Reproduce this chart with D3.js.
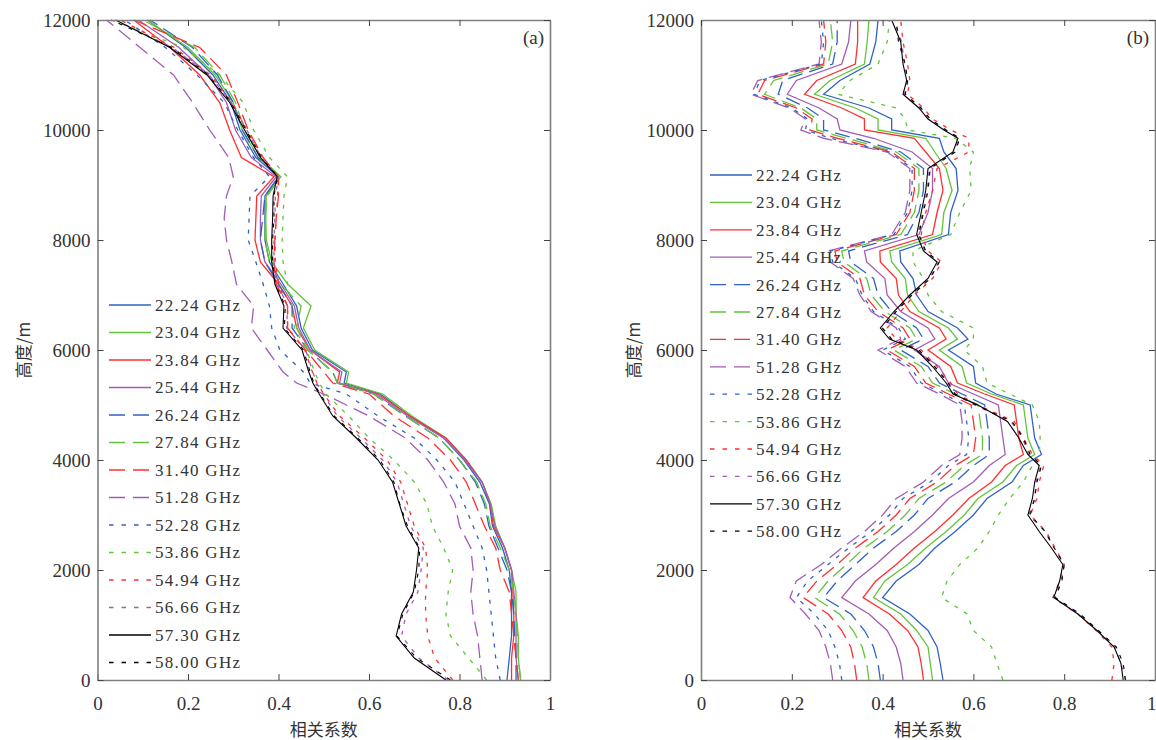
<!DOCTYPE html>
<html>
<head>
<meta charset="utf-8">
<script src="https://cdn.jsdelivr.net/npm/d3@7"></script>
<style>
  body { margin: 0; background: #fff; }
  svg { display: block; }
</style>
</head>
<body>
<div id="chart"></div>
<script>
// legend labels
const freqLabels = ['22.24 GHz', '23.04 GHz', '23.84 GHz', '25.44 GHz', '26.24 GHz', '27.84 GHz', '31.40 GHz',
  '51.28 GHz', '52.28 GHz', '53.86 GHz', '54.94 GHz', '56.66 GHz', '57.30 GHz', '58.00 GHz'];
const xTicks = [0, 0.2, 0.4, 0.6, 0.8, 1];
const yTicks = [0, 2000, 4000, 6000, 8000, 10000, 12000];

// panel (a) heights, m
const heightsA = [0, 400, 800, 1200, 1600, 2000, 2400, 2800, 3200, 3600, 4000, 4400, 4800, 5200, 5400, 5600,
  6000, 6400, 6800, 7200, 7600, 8000, 8400, 8800, 9150, 9500, 10000, 10500, 11000, 11500, 12000];
const a2224 = [0.905, 0.91, 0.915, 0.915, 0.915, 0.91, 0.895, 0.873, 0.866, 0.845, 0.81, 0.765, 0.69, 0.625, 0.545, 0.55, 0.475, 0.45, 0.44, 0.41, 0.38, 0.37, 0.37, 0.37, 0.40, 0.35, 0.315, 0.295, 0.255, 0.195, 0.11];
const a2304 = [0.935, 0.93, 0.93, 0.925, 0.925, 0.915, 0.90, 0.88, 0.87, 0.85, 0.815, 0.77, 0.695, 0.63, 0.55, 0.555, 0.48, 0.455, 0.472, 0.42, 0.385, 0.373, 0.372, 0.373, 0.405, 0.355, 0.32, 0.30, 0.26, 0.20, 0.11];
const a2384 = [0.915, 0.915, 0.92, 0.92, 0.918, 0.915, 0.90, 0.875, 0.868, 0.85, 0.815, 0.77, 0.69, 0.62, 0.53, 0.535, 0.47, 0.44, 0.43, 0.40, 0.36, 0.348, 0.35, 0.352, 0.39, 0.318, 0.292, 0.27, 0.226, 0.16, 0.08];
const a2544 = [0.93, 0.925, 0.925, 0.925, 0.92, 0.915, 0.90, 0.878, 0.868, 0.85, 0.812, 0.765, 0.685, 0.615, 0.535, 0.54, 0.47, 0.445, 0.435, 0.405, 0.37, 0.36, 0.36, 0.362, 0.395, 0.34, 0.305, 0.285, 0.245, 0.18, 0.09];
const a2624 = [0.925, 0.925, 0.922, 0.92, 0.915, 0.905, 0.885, 0.865, 0.855, 0.835, 0.80, 0.755, 0.68, 0.61, 0.53, 0.52, 0.465, 0.43, 0.43, 0.40, 0.37, 0.36, 0.365, 0.37, 0.40, 0.355, 0.32, 0.30, 0.265, 0.21, 0.116];
const a2784 = [0.935, 0.93, 0.928, 0.925, 0.92, 0.91, 0.89, 0.868, 0.858, 0.838, 0.80, 0.755, 0.68, 0.61, 0.53, 0.52, 0.465, 0.44, 0.45, 0.405, 0.38, 0.37, 0.37, 0.375, 0.405, 0.36, 0.325, 0.305, 0.27, 0.215, 0.10];
const a3140 = [0.93, 0.925, 0.92, 0.915, 0.91, 0.89, 0.88, 0.855, 0.835, 0.815, 0.78, 0.73, 0.655, 0.60, 0.52, 0.50, 0.46, 0.42, 0.42, 0.395, 0.39, 0.392, 0.395, 0.40, 0.40, 0.366, 0.333, 0.31, 0.285, 0.226, 0.08];
const a5128 = [0.85, 0.845, 0.84, 0.83, 0.825, 0.83, 0.825, 0.80, 0.79, 0.765, 0.73, 0.68, 0.60, 0.50, 0.44, 0.41, 0.375, 0.34, 0.345, 0.307, 0.297, 0.285, 0.28, 0.285, 0.30, 0.29, 0.248, 0.21, 0.168, 0.094, 0.02];
const a5228 = [0.89, 0.88, 0.875, 0.87, 0.865, 0.86, 0.85, 0.83, 0.81, 0.79, 0.75, 0.70, 0.62, 0.55, 0.47, 0.455, 0.403, 0.385, 0.38, 0.366, 0.35, 0.333, 0.335, 0.337, 0.38, 0.345, 0.31, 0.28, 0.22, 0.15, 0.06];
const a5386 = [0.86, 0.82, 0.78, 0.77, 0.775, 0.785, 0.765, 0.74, 0.728, 0.70, 0.655, 0.60, 0.555, 0.505, 0.49, 0.48, 0.462, 0.435, 0.43, 0.42, 0.41, 0.408, 0.41, 0.412, 0.42, 0.38, 0.345, 0.322, 0.27, 0.19, 0.03];
const a5494 = [0.785, 0.745, 0.73, 0.725, 0.725, 0.73, 0.725, 0.70, 0.685, 0.67, 0.64, 0.59, 0.535, 0.50, 0.485, 0.475, 0.458, 0.42, 0.42, 0.40, 0.393, 0.392, 0.395, 0.398, 0.40, 0.365, 0.33, 0.298, 0.25, 0.17, 0.05];
const a5666 = [0.775, 0.71, 0.672, 0.682, 0.708, 0.715, 0.72, 0.692, 0.677, 0.662, 0.63, 0.582, 0.53, 0.498, 0.484, 0.476, 0.46, 0.418, 0.42, 0.398, 0.39, 0.39, 0.392, 0.393, 0.40, 0.362, 0.33, 0.296, 0.247, 0.165, 0.04];
const a5730 = [0.77, 0.70, 0.66, 0.672, 0.698, 0.705, 0.71, 0.682, 0.667, 0.652, 0.62, 0.572, 0.52, 0.49, 0.476, 0.467, 0.452, 0.41, 0.412, 0.392, 0.385, 0.385, 0.387, 0.388, 0.397, 0.36, 0.325, 0.292, 0.242, 0.16, 0.04];
const a5800 = [0.78, 0.705, 0.662, 0.675, 0.70, 0.71, 0.712, 0.685, 0.668, 0.655, 0.624, 0.575, 0.523, 0.492, 0.478, 0.47, 0.455, 0.413, 0.415, 0.393, 0.387, 0.387, 0.39, 0.39, 0.398, 0.362, 0.328, 0.295, 0.245, 0.165, 0.03];

// panel (b) heights, m
const heightsB = [0, 300, 600, 900, 1200, 1500, 1800, 2100, 2400, 2700, 3000, 3300, 3600, 3900, 4100, 4400, 4700,
  5000, 5200, 5400, 5700, 6000, 6200, 6400, 6700, 7000, 7300, 7600, 7800, 8100, 8500, 8900, 9300, 9600, 9850,
  10000, 10200, 10400, 10650, 10900, 11200, 11600, 12000];
const b2224 = [0.533, 0.527, 0.52, 0.50, 0.46, 0.40, 0.43, 0.48, 0.515, 0.56, 0.60, 0.63, 0.685, 0.71, 0.75, 0.735, 0.73, 0.725, 0.65, 0.605, 0.60, 0.545, 0.588, 0.565, 0.50, 0.475, 0.467, 0.44, 0.438, 0.545, 0.55, 0.566, 0.562, 0.535, 0.525, 0.42, 0.42, 0.37, 0.27, 0.306, 0.372, 0.385, 0.39];
const b2304 = [0.51, 0.505, 0.50, 0.475, 0.44, 0.38, 0.405, 0.455, 0.495, 0.54, 0.58, 0.61, 0.665, 0.695, 0.735, 0.72, 0.715, 0.71, 0.64, 0.585, 0.575, 0.525, 0.565, 0.545, 0.48, 0.455, 0.45, 0.42, 0.416, 0.53, 0.535, 0.553, 0.54, 0.515, 0.495, 0.39, 0.39, 0.34, 0.25, 0.284, 0.36, 0.366, 0.37];
const b2384 = [0.49, 0.485, 0.478, 0.455, 0.415, 0.357, 0.385, 0.43, 0.47, 0.515, 0.555, 0.59, 0.64, 0.67, 0.71, 0.70, 0.695, 0.69, 0.625, 0.565, 0.55, 0.50, 0.54, 0.525, 0.46, 0.435, 0.43, 0.395, 0.394, 0.51, 0.52, 0.533, 0.525, 0.495, 0.47, 0.36, 0.36, 0.31, 0.228, 0.255, 0.34, 0.345, 0.345];
const b2544 = [0.445, 0.44, 0.43, 0.41, 0.37, 0.31, 0.34, 0.385, 0.425, 0.47, 0.51, 0.545, 0.60, 0.635, 0.67, 0.665, 0.66, 0.655, 0.60, 0.545, 0.525, 0.47, 0.515, 0.50, 0.44, 0.41, 0.405, 0.365, 0.36, 0.48, 0.50, 0.51, 0.51, 0.465, 0.38, 0.306, 0.30, 0.26, 0.19, 0.21, 0.31, 0.325, 0.33];
const b2624 = [0.395, 0.39, 0.38, 0.36, 0.33, 0.27, 0.30, 0.34, 0.38, 0.43, 0.47, 0.50, 0.56, 0.60, 0.635, 0.635, 0.63, 0.625, 0.575, 0.525, 0.50, 0.44, 0.49, 0.475, 0.42, 0.39, 0.38, 0.33, 0.325, 0.455, 0.48, 0.49, 0.49, 0.44, 0.34, 0.27, 0.27, 0.235, 0.17, 0.18, 0.29, 0.30, 0.30];
const b2784 = [0.37, 0.365, 0.355, 0.335, 0.305, 0.25, 0.28, 0.32, 0.36, 0.41, 0.45, 0.48, 0.54, 0.58, 0.62, 0.62, 0.615, 0.61, 0.56, 0.51, 0.485, 0.425, 0.475, 0.46, 0.405, 0.375, 0.365, 0.315, 0.31, 0.44, 0.47, 0.48, 0.48, 0.43, 0.32, 0.255, 0.255, 0.22, 0.14, 0.16, 0.28, 0.29, 0.285];
const b3140 = [0.343, 0.338, 0.33, 0.31, 0.28, 0.225, 0.255, 0.30, 0.34, 0.39, 0.43, 0.46, 0.52, 0.56, 0.60, 0.605, 0.60, 0.595, 0.545, 0.495, 0.47, 0.41, 0.46, 0.445, 0.39, 0.36, 0.35, 0.30, 0.295, 0.43, 0.46, 0.47, 0.47, 0.42, 0.30, 0.24, 0.245, 0.21, 0.125, 0.14, 0.27, 0.275, 0.27];
const b5128 = [0.29, 0.285, 0.275, 0.26, 0.23, 0.196, 0.21, 0.265, 0.31, 0.36, 0.40, 0.43, 0.49, 0.53, 0.57, 0.575, 0.575, 0.57, 0.525, 0.475, 0.45, 0.39, 0.44, 0.43, 0.375, 0.35, 0.335, 0.285, 0.28, 0.42, 0.45, 0.46, 0.46, 0.41, 0.27, 0.22, 0.23, 0.195, 0.11, 0.125, 0.26, 0.265, 0.26];
const b5228 = [0.31, 0.305, 0.295, 0.28, 0.25, 0.21, 0.235, 0.28, 0.325, 0.375, 0.415, 0.445, 0.505, 0.545, 0.585, 0.59, 0.585, 0.58, 0.535, 0.485, 0.46, 0.40, 0.45, 0.435, 0.38, 0.355, 0.34, 0.29, 0.285, 0.425, 0.455, 0.465, 0.465, 0.415, 0.285, 0.23, 0.235, 0.20, 0.117, 0.13, 0.265, 0.27, 0.265];
const b5386 = [0.665, 0.652, 0.64, 0.60, 0.586, 0.53, 0.542, 0.57, 0.61, 0.635, 0.655, 0.68, 0.71, 0.73, 0.745, 0.747, 0.745, 0.73, 0.68, 0.63, 0.62, 0.58, 0.60, 0.60, 0.53, 0.50, 0.49, 0.467, 0.467, 0.55, 0.57, 0.595, 0.592, 0.60, 0.56, 0.455, 0.45, 0.43, 0.302, 0.328, 0.39, 0.41, 0.415];
const b5494 = [0.905, 0.91, 0.905, 0.87, 0.83, 0.775, 0.79, 0.80, 0.78, 0.76, 0.725, 0.74, 0.745, 0.755, 0.73, 0.71, 0.69, 0.61, 0.565, 0.55, 0.52, 0.485, 0.43, 0.41, 0.44, 0.47, 0.51, 0.53, 0.50, 0.485, 0.495, 0.51, 0.52, 0.59, 0.59, 0.55, 0.51, 0.49, 0.455, 0.46, 0.455, 0.445, 0.44];
const b5666 = [0.935, 0.925, 0.912, 0.875, 0.833, 0.78, 0.793, 0.80, 0.778, 0.758, 0.722, 0.735, 0.738, 0.748, 0.722, 0.708, 0.683, 0.603, 0.558, 0.543, 0.513, 0.478, 0.418, 0.398, 0.428, 0.463, 0.503, 0.523, 0.493, 0.478, 0.488, 0.498, 0.503, 0.558, 0.568, 0.538, 0.503, 0.483, 0.448, 0.456, 0.448, 0.442, 0.425];
const b5730 = [0.93, 0.925, 0.91, 0.872, 0.83, 0.777, 0.79, 0.797, 0.772, 0.745, 0.72, 0.73, 0.735, 0.745, 0.72, 0.70, 0.675, 0.61, 0.555, 0.54, 0.51, 0.475, 0.415, 0.395, 0.425, 0.46, 0.50, 0.52, 0.49, 0.475, 0.485, 0.495, 0.50, 0.555, 0.566, 0.535, 0.50, 0.48, 0.445, 0.453, 0.445, 0.44, 0.42];
const b5800 = [0.935, 0.93, 0.915, 0.875, 0.835, 0.78, 0.795, 0.80, 0.778, 0.758, 0.725, 0.735, 0.74, 0.75, 0.725, 0.71, 0.685, 0.605, 0.56, 0.545, 0.515, 0.48, 0.42, 0.40, 0.43, 0.465, 0.505, 0.525, 0.495, 0.48, 0.49, 0.50, 0.505, 0.56, 0.57, 0.54, 0.505, 0.485, 0.45, 0.455, 0.45, 0.435, 0.43];

const seriesA = [a2224, a2304, a2384, a2544, a2624, a2784, a3140, a5128, a5228, a5386, a5494, a5666, a5730, a5800];
const seriesB = [b2224, b2304, b2384, b2544, b2624, b2784, b3140, b5128, b5228, b5386, b5494, b5666, b5730, b5800];

// line styles, same order as freqLabels
const BLUE = '#2f63c2', GREEN = '#62c43a', RED = '#ff2f2f', PURPLE = '#a35cb5', BLACK = '#000';
const colors = [BLUE, GREEN, RED, PURPLE, BLUE, GREEN, RED, PURPLE, BLUE, GREEN, RED, PURPLE, BLACK, BLACK];
const LONG = '15,7', SHORT = '4,7';
const dashes = [null, null, null, null, LONG, LONG, LONG, LONG, SHORT, SHORT, SHORT, SHORT, null, SHORT];

const width = 1156, height = 740;
const svg = d3.select('#chart').append('svg')
  .attr('width', width)
  .attr('height', height)
  .style('background', '#fff');

const y = d3.scaleLinear().domain([0, 12000]).range([680, 20]);

const panels = [
  { x: d3.scaleLinear().domain([0, 1]).range([97.5, 550]), heights: heightsA, series: seriesA,
    tag: '(a)', legendX: 109, legendY: 305, legendStep: 27.5, ylabX: 22 },
  { x: d3.scaleLinear().domain([0, 1]).range([701, 1155]), heights: heightsB, series: seriesB,
    tag: '(b)', legendX: 710, legendY: 175, legendStep: 27.4, ylabX: 632 }
];

const AXIS = '#7f7f7f';
const SERIF = '"Liberation Serif", "Times New Roman", "DejaVu Serif", serif';
const CJK = '"Noto Sans CJK SC", "Noto Sans", sans-serif';

panels.forEach((p, pi) => {
  const g = svg.append('g');
  const [x0, x1] = p.x.range();

  // curves
  const line = d3.line()
    .x(d => p.x(d[0]))
    .y(d => y(d[1]));
  p.series.forEach((vals, i) => {
    g.append('path')
      .datum(vals.map((v, k) => [v, p.heights[k]]))
      .attr('d', line)
      .attr('fill', 'none')
      .attr('stroke', colors[i])
      .attr('stroke-width', i >= 12 ? 1.1 : 1.3)
      .attr('stroke-dasharray', dashes[i]);
  });

  // axes, ticks pointing inward
  const bottom = g.append('g')
    .attr('transform', `translate(0,${y(0)})`)
    .call(d3.axisBottom(p.x).tickValues(xTicks).tickSize(-6).tickSizeOuter(0)
      .tickPadding(17).tickFormat(d => String(d)));
  const left = g.append('g')
    .attr('transform', `translate(${x0},0)`)
    .call(d3.axisLeft(y).tickValues(yTicks).tickSize(-6).tickSizeOuter(0)
      .tickPadding(7).tickFormat(d => String(d)));
  const top = g.append('g')
    .attr('transform', `translate(0,${y(12000)})`)
    .call(d3.axisTop(p.x).tickValues(xTicks).tickSize(-6).tickSizeOuter(0).tickFormat(''));
  const right = g.append('g')
    .attr('transform', `translate(${x1},0)`)
    .call(d3.axisRight(y).tickValues(yTicks).tickSize(-6).tickSizeOuter(0).tickFormat(''));

  [bottom, left, top, right].forEach(a => {
    a.attr('font-family', null);
    a.select('.domain').attr('stroke', AXIS).attr('stroke-width', 1.6);
    a.selectAll('.tick line').attr('stroke', '#444').attr('stroke-width', 1);
    a.selectAll('.tick text')
      .style('font-family', SERIF)
      .style('font-size', '19px')
      .attr('fill', '#333');
  });

  // the right panel's "1" sits on the page edge: keep it inside
  if (pi === 1) {
    bottom.selectAll('.tick text').filter(d => d === 1)
      .attr('text-anchor', 'end')
      .attr('x', 1);
  }

  // panel tag
  g.append('text')
    .attr('x', x1 - 6)
    .attr('y', 44)
    .attr('text-anchor', 'end')
    .style('font-family', SERIF)
    .style('font-size', '19px')
    .attr('fill', '#333')
    .text(p.tag);

  // axis titles
  g.append('text')
    .attr('x', (x0 + x1) / 2)
    .attr('y', 736)
    .attr('text-anchor', 'middle')
    .style('font-family', CJK)
    .style('font-size', '17px')
    .attr('fill', '#333')
    .text('相关系数');
  g.append('text')
    .attr('transform', `translate(${p.ylabX},${y(6000)}) rotate(-90)`)
    .attr('text-anchor', 'middle')
    .attr('dominant-baseline', 'central')
    .style('font-family', CJK)
    .style('font-size', '17px')
    .attr('fill', '#333')
    .text('高度/m');

  // legend
  const leg = g.append('g');
  freqLabels.forEach((label, i) => {
    const ly = p.legendY + i * p.legendStep;
    leg.append('line')
      .attr('x1', p.legendX).attr('x2', p.legendX + 42)
      .attr('y1', ly).attr('y2', ly)
      .attr('stroke', colors[i])
      .attr('stroke-width', 1.3)
      .attr('stroke-dasharray', dashes[i] === LONG ? '16,8' : dashes[i] === SHORT ? '4.5,8' : null);
    leg.append('text')
      .attr('x', p.legendX + 46)
      .attr('y', ly)
      .attr('dy', '0.35em')
      .style('font-family', SERIF)
      .style('font-size', '17px')
      .style('letter-spacing', '1.3px')
      .attr('fill', '#333')
      .text(label);
  });
});
</script>
</body>
</html>
